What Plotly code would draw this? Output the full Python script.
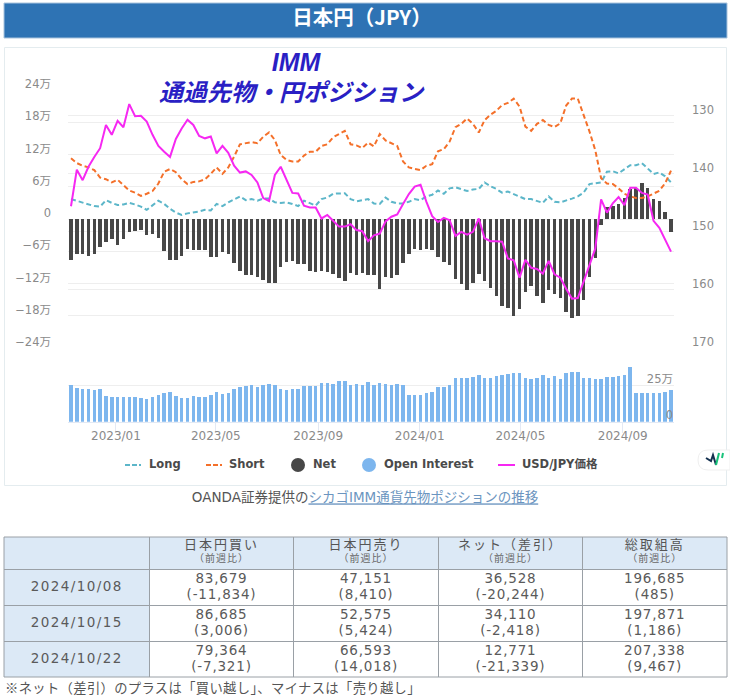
import pandas as pd
import plotly.graph_objects as go

W, H = 730, 700
FONT = "DejaVu Sans, Noto Sans CJK JP, sans-serif"
CJK = "Noto Sans CJK JP, sans-serif"

first_week = "2022-11-08"
week_count = 104

long_pos = [3.7,3.4,3.1,2.8,2.4,2.3,3.5,3.0,2.6,2.7,3.0,2.7,2.3,1.7,2.5,3.4,2.8,1.9,1.2,0.75,1.05,1.2,1.4,1.7,1.6,2.8,2.4,3.1,3.7,4.2,3.5,3.7,3.4,3.8,3.8,3.1,3.0,3.1,2.8,2.4,3.4,2.9,2.5,3.7,4.0,4.7,4.7,4.8,3.7,3.3,3.5,
            3.7,2.9,2.8,4.0,3.2,2.9,2.9,3.2,3.7,3.5,4.2,4.5,5.3,4.7,5.7,5.9,5.5,5.2,5.5,5.6,6.8,6.1,5.6,4.9,5.1,4.6,4.2,3.7,3.7,3.4,3.0,4.2,3.2,3.1,3.4,3.8,4.2,4.9,6.5,6.6,6.8,8.8,8.9,8.5,9.3,10.0,10.0,10.4,9.4,8.37,8.67,7.94,6.8]
short_pos = [11.3,10.4,9.9,9.6,9.1,7.7,7.4,6.8,7.3,6.3,5.3,4.9,4.3,4.7,5.2,6.6,8.8,9.3,8.7,7.4,6.5,6.9,7.0,7.4,8.4,9.6,8.4,9.6,11.6,13.9,14.1,14.3,14.1,15.3,16.1,14.7,11.9,11.0,10.7,10.7,11.8,12.5,12.5,13.6,13.9,15.2,15.8,16.4,13.9,13.7,13.2,
             14.2,13.5,15.8,14.6,14.1,13.6,10.7,9.6,9.3,9.1,9.9,10.2,12.6,13.0,14.4,17.1,17.7,18.7,17.7,16.1,18.4,19.4,20.1,21.2,21.6,22.4,20.9,17.2,16.4,17.7,18.4,17.5,17.1,17.8,21.1,22.4,22.4,19.4,16.3,12.8,7.6,6.6,6.5,5.7,4.7,4.2,3.9,3.9,4.2,4.72,5.26,6.66,9.0]
net_pos = [-7.6,-6.6,-6.6,-6.8,-6.6,-5.3,-4.2,-3.8,-4.8,-3.7,-2.4,-2.2,-2.0,-3.0,-2.8,-3.5,-6.0,-7.6,-7.6,-6.8,-5.5,-5.8,-5.8,-5.8,-7.0,-7.0,-6.1,-6.6,-8.1,-9.7,-10.5,-10.5,-10.8,-11.4,-11.9,-11.9,-9.0,-8.0,-7.9,-8.4,-8.3,-9.6,-9.9,-9.7,-9.9,-10.2,-11.0,-11.6,-10.0,-10.4,-10.1,
           -10.4,-10.4,-13.0,-10.7,-10.9,-10.4,-8.1,-6.5,-5.6,-5.7,-5.6,-5.7,-7.0,-8.0,-8.5,-11.1,-12.0,-13.2,-11.9,-10.2,-11.6,-12.9,-14.3,-16.1,-16.5,-18.0,-16.8,-13.5,-12.5,-14.3,-15.7,-13.2,-13.9,-14.7,-17.3,-18.4,-18.1,-15.0,-10.7,-7.3,-1.05,2.2,2.5,2.7,3.9,5.6,5.7,6.7,5.7,3.65,3.41,1.28,-2.4]
open_interest = [25.0,23.2,22.5,22.5,21.8,22.5,17.7,17.2,17.2,17.2,17.2,17.2,16.3,15.6,17.0,18.4,19.5,20.6,17.7,16.5,16.5,17.7,17.2,17.2,18.4,20.2,19.0,19.5,22.5,23.6,24.3,25.0,23.6,25.0,26.2,25.0,22.5,22.0,22.5,22.5,24.3,24.3,24.3,26.6,26.6,26.2,27.8,27.8,25.5,25.9,25.5,
                 27.3,25.5,26.6,26.2,25.5,26.2,25.5,18.1,18.1,18.1,19.5,20.6,23.6,23.6,25.5,30.3,30.3,30.3,31.0,32.1,29.8,30.3,31.4,31.9,32.8,33.3,33.3,29.8,29.1,29.8,31.9,29.8,31.4,29.1,33.3,34.4,34.4,30.3,30.3,29.6,29.6,30.7,30.7,31.4,31.9,37.6,19.5,20.0,19.5,19.67,19.79,20.3,21.8]
usd_jpy = [145.6,139.3,141.1,138.8,137.1,135.6,131.6,133.3,130.9,132.0,128.0,130.1,130.0,131.0,133.3,135.2,136.2,137.1,134.0,132.2,130.7,131.6,133.5,133.9,133.6,136.5,135.2,136.4,138.6,139.8,139.6,140.2,141.5,144.2,144.7,140.2,138.8,141.2,143.3,143.4,145.5,145.8,145.8,147.7,147.1,148.1,149.1,149.1,148.7,149.7,149.9,
           151.6,150.6,150.3,148.2,147.4,147.0,145.2,143.5,142.2,141.9,144.8,147.3,148.3,147.6,148.0,150.7,150.0,150.5,150.0,147.7,151.1,151.6,151.6,151.7,154.6,154.9,157.9,154.8,156.2,156.4,157.2,155.0,157.3,157.9,159.8,161.5,161.4,158.6,155.7,152.9,144.4,146.7,145.1,144.0,145.4,142.4,142.4,143.3,143.6,148.1,149.3,151.4,153.4]

left_tick_vals = [24, 18, 12, 6, 0, -6, -12, -18, -24]
left_tick_text = ["24万", "18万", "12万", "6万", "0", "−6万", "−12万", "−18万", "−24万"]
right_tick_vals = [130, 140, 150, 160, 170]
oi_tick_vals = [0, 25]
oi_tick_text = ["0", "25万"]

col_heads = ["日本円買い", "日本円売り", "ネット（差引）", "総取組高"]
row_dates = ["2024/10/08", "2024/10/15", "2024/10/22"]
row_values = [
    ["83,679", "47,151", "36,528", "196,685"],
    ["86,685", "52,575", "34,110", "197,871"],
    ["79,364", "66,593", "12,771", "207,338"],
]
row_changes = [
    ["(-11,834)", "(8,410)", "(-20,244)", "(485)"],
    ["(3,006)", "(5,424)", "(-2,418)", "(1,186)"],
    ["(-7,321)", "(14,018)", "(-21,339)", "(9,467)"],
]

dates = pd.date_range(first_week, periods=week_count, freq="7D")
pad = pd.Timedelta(days=3.6)
x_range = [dates[0] - pad, dates[-1] + pad]

def px(x):
    return x / W

def py(y):
    return 1 - y / H

def spaced(text, ls):
    return f'<span style="letter-spacing:{ls}px">{text}</span>'

def rect(x0, y0, x1, y1, fill=None, line=None, width=1):
    return dict(type="rect", xref="paper", yref="paper", x0=px(x0), x1=px(x1), y0=py(y0), y1=py(y1),
                fillcolor=fill or "rgba(0,0,0,0)", line=dict(color=line or "rgba(0,0,0,0)", width=width), layer="below")

def hline(x0, x1, y, color, width=1, dash="solid"):
    return dict(type="line", xref="paper", yref="paper", x0=px(x0), x1=px(x1), y0=py(y), y1=py(y),
                line=dict(color=color, width=width, dash=dash), layer="above")

fig = go.Figure()
fig.add_bar(x=dates, y=net_pos, name="Net", marker=dict(color="#474747", line=dict(width=0)), width=4.2 * 86400000, yaxis="y", xaxis="x")
fig.add_scatter(x=dates, y=long_pos, name="Long", mode="lines", line=dict(color="#5cb6c9", width=2, dash="5px,3px"), yaxis="y", xaxis="x")
fig.add_scatter(x=dates, y=short_pos, name="Short", mode="lines", line=dict(color="#f4702a", width=2, dash="5px,3px"), yaxis="y", xaxis="x")
fig.add_scatter(x=dates, y=usd_jpy, name="USD/JPY価格", mode="lines", line=dict(color="#f628f2", width=2), yaxis="y2", xaxis="x")
fig.add_bar(x=dates, y=open_interest, name="Open Interest", marker=dict(color="#7db6ee", line=dict(width=0)), width=4.2 * 86400000, yaxis="y3", xaxis="x2")

POS = {"center": "middle center", "left": "middle right", "right": "middle left"}

def label(x, y, text, size=12, color="#555", family=FONT, anchor="center"):
    fig.add_scatter(x=[x], y=[y], text=[text], mode="text", textposition=POS[anchor], cliponaxis=False,
                    textfont=dict(size=size, color=color, family=family), xaxis="x3", yaxis="y4", hoverinfo="skip")

tick_font = dict(size=11.5, color="#8a8a8a", family=FONT)
shapes = [
    rect(4, 3, 727, 38, fill="#2e73b4", line="#a9c4dd"),
    rect(4.5, 47.5, 726.5, 485.5, fill="#ffffff", line="#e4ecef"),
]
label(362, 20, "<b>日本円（JPY）</b>", size=20.5, color="#ffffff", family=CJK)
label(296, 65, "<b><i>IMM</i></b>", size=25, color="#2a1fc4", family="Liberation Sans, sans-serif")
label(291, 95, "<b><i>通過先物・円ポジション</i></b>", size=24, color="#2a1fc4", family=FONT)
label(365, 499, '<span style="color:#555">OANDA証券提供の</span><span style="color:#6b95c0"><u>シカゴIMM通貨先物ポジションの推移</u></span>', size=13.5, family=FONT)

# legend
shapes += [hline(125, 141, 465, "#5cb6c9", 2, "5px,2px"), hline(206, 222, 465, "#f4702a", 2, "5px,2px"), hline(498, 515, 465, "#f628f2", 2)]
shapes += [
    dict(type="circle", xref="paper", yref="paper", x0=px(291), x1=px(305), y0=py(472), y1=py(458), fillcolor="#474747", line=dict(width=0)),
    dict(type="circle", xref="paper", yref="paper", x0=px(362), x1=px(376), y0=py(472), y1=py(458), fillcolor="#7db6ee", line=dict(width=0)),
]
for lx, txt in [(149, "Long"), (229, "Short"), (313, "Net"), (384, "Open Interest"), (522, "USD/JPY価格")]:
    label(lx, 465.5, f"<b>{txt}</b>", size=11.5, color="#4a4a4a", anchor="left")

# OI axis labels placed inside the plot
label(673, 380, oi_tick_text[1], size=11.5, color="#8a8a8a", anchor="right")
label(673, 416, oi_tick_text[0], size=11.5, color="#8a8a8a", anchor="right")

# small badge
shapes += [
    dict(type="path", path=f"M {px(708)} {py(450)} L {px(730)} {py(450)} L {px(730)} {py(470)} L {px(708)} {py(470)} Q {px(698)} {py(470)} {px(698)} {py(460)} Q {px(698)} {py(450)} {px(708)} {py(450)} Z",
         xref="paper", yref="paper", fillcolor="#ffffff", line=dict(color="#efefef", width=1)),
    dict(type="path", path=f"M {px(706)} {py(458)} L {px(711)} {py(461)} L {px(713)} {py(455)} L {px(716)} {py(465)}", xref="paper", yref="paper", line=dict(color="#14304f", width=2)),
    dict(type="path", path=f"M {px(716)} {py(465)} L {px(719)} {py(453)}", xref="paper", yref="paper", line=dict(color="#18c27a", width=2)),
    dict(type="path", path=f"M {px(722)} {py(458)} L {px(723)} {py(453)}", xref="paper", yref="paper", line=dict(color="#18c27a", width=2)),
]

# table
col_x = [4, 149.5, 293.5, 438.5, 582.5, 727]
row_y = [537, 569.5, 605.5, 641.5, 677]
TB = "#9aa0a6"
HB = "#dce9f6"
shapes.append(rect(col_x[0], row_y[0], col_x[5], row_y[1], fill=HB))
shapes.append(rect(col_x[0], row_y[1], col_x[1], row_y[4], fill=HB))
for yy in row_y:
    shapes.append(hline(col_x[0], col_x[5], yy, TB, 1))
for xx in col_x:
    shapes.append(dict(type="line", xref="paper", yref="paper", x0=px(xx), x1=px(xx), y0=py(row_y[0]), y1=py(row_y[4]), line=dict(color=TB, width=1), layer="above"))
for c, head in enumerate(col_heads):
    cx = (col_x[c + 1] + col_x[c + 2]) / 2
    label(cx, 546, spaced(head, 2), size=13, color="#555", family=FONT)
    label(cx, 559.5, spaced("（前週比）", 1), size=10, color="#666", family=FONT)
for r, d in enumerate(row_dates):
    ry = (row_y[r + 1] + row_y[r + 2]) / 2
    label((col_x[0] + col_x[1]) / 2, ry, spaced(d, 1.4), size=13.5, color="#5a5a5a")
    for c in range(4):
        cx = (col_x[c + 1] + col_x[c + 2]) / 2
        label(cx, ry - 8, spaced(row_values[r][c], 0.8), size=13.5, color="#5a5a5a")
        label(cx, ry + 8, spaced(row_changes[r][c], 0.8), size=13.5, color="#5a5a5a")
label(5, 689.5, spaced("※ネット（差引）のプラスは「買い越し」、マイナスは「売り越し」", 0.35), size=13.3, color="#555", family=CJK, anchor="left")

domain_top = [py(348), py(90)]
domain_oi = [py(421.7), py(367)]
fig.update_layout(
    template="none",
    width=W, height=H, autosize=False,
    margin=dict(l=0, r=0, t=0, b=0, pad=0),
    paper_bgcolor="#ffffff", plot_bgcolor="rgba(0,0,0,0)",
    showlegend=False, barmode="overlay", bargap=0,
    font=dict(family=FONT),
    shapes=shapes,
    xaxis=dict(domain=[px(68), px(674)], range=x_range, type="date", anchor="y", visible=False, automargin=False),
    xaxis2=dict(domain=[px(68), px(674)], range=x_range, type="date", anchor="y3", tick0="2023-01-01", dtick="M4", automargin=False,
                tickformat="%Y/%m", showgrid=False, zeroline=False, showline=True, linecolor="#e3e9f4", linewidth=1,
                ticks="outside", ticklen=10, tickcolor="#e3e9f4", tickwidth=1, ticklabelstandoff=-7,
                tickfont=dict(size=12, color="#8a8a8a", family=FONT)),
    xaxis3=dict(domain=[0, 1], range=[0, W], anchor="y4", visible=False, automargin=False),
    yaxis=dict(domain=domain_top, range=[-24, 24], tickvals=left_tick_vals, ticktext=left_tick_text, tickfont=tick_font, automargin=False,
               gridcolor="#eeeeee", zeroline=False, showline=False, ticks="", ticklabelstandoff=16, ticklabelshift=-6, anchor="x"),
    yaxis2=dict(domain=domain_top, range=[170, 125.58], overlaying="y", side="right", tickvals=right_tick_vals, tickfont=tick_font, automargin=False,
                gridcolor="#eeeeee", zeroline=False, showline=False, ticks="", ticklabelstandoff=17, ticklabelshift=6, anchor="x"),
    yaxis3=dict(domain=domain_oi, range=[0, 37.6], side="right", tickvals=oi_tick_vals, showticklabels=False, automargin=False,
                gridcolor="#eeeeee", zeroline=False, showline=False, ticks="", anchor="x2"),
    yaxis4=dict(domain=[0, 1], range=[H, 0], anchor="x3", visible=False, automargin=False),
)
fig.write_html("out.html", config={"displayModeBar": False},
               post_script="document.body.style.margin='0';document.documentElement.style.overflow='hidden';")
